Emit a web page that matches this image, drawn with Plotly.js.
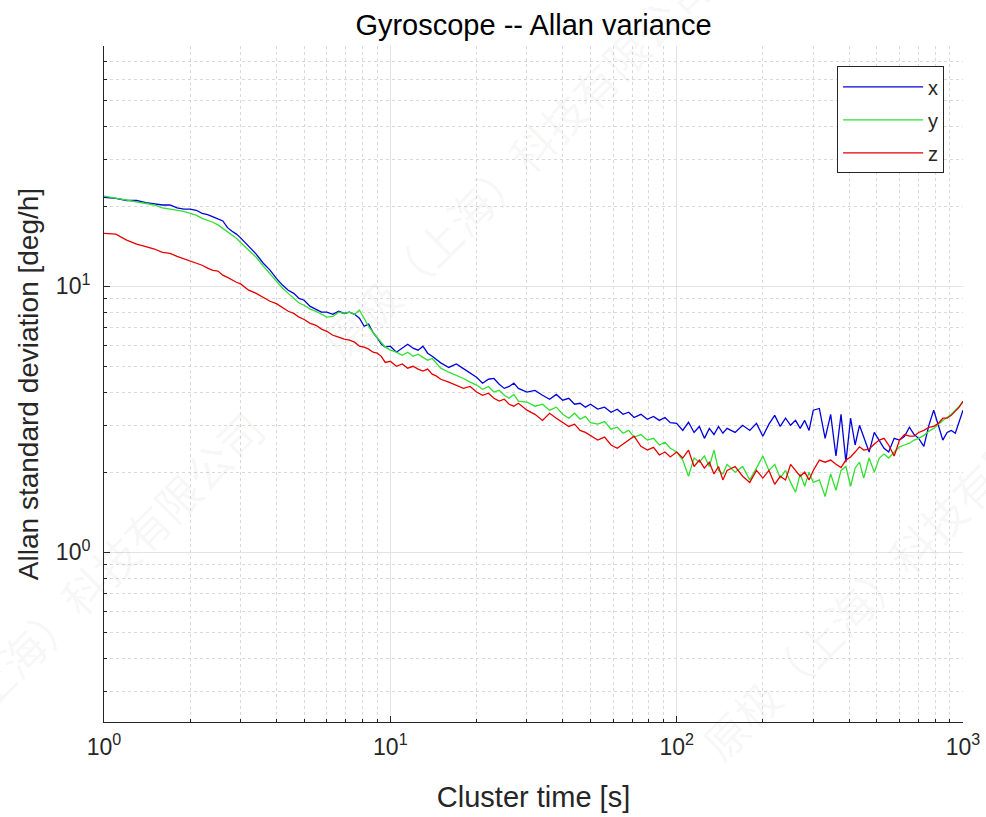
<!DOCTYPE html>
<html>
<head>
<meta charset="utf-8">
<script src="https://cdn.plot.ly/plotly-3.0.1.min.js"></script>
<style>html,body{margin:0;padding:0;background:#fff;}#chart{width:986px;height:817px;}</style>
</head>
<body>
<div id="chart"></div>
<script>
// Cluster time [s]
const tau = [1,1.1,1.2,1.3,1.4,1.5,1.6,1.7,1.8,1.9,2,2.1,2.2,2.3,2.4,2.5,2.6,2.7,2.8,2.9,3,3.2,3.4,3.6,3.8,4,4.2,4.4,4.6,4.8,5,5.25,5.5,5.75,6,6.3,6.6,6.9,7.2,7.5,7.8,8.1,8.4,8.7,9,9.3,9.6,
  10,10.5,11,11.5,12,12.5,13,13.5,14,14.5,15,16,17,18,19,20,21,22,23,24,25,26,27,28,30,32,34,36,38,40,42,44,46,48,50,53,56,59,62,65,68,71,75,79,83,87,91,95,
  100,105,110,115,120,125,130,135,140,145,150,160,170,180,190,200,210,220,230,240,250,260,270,280,290,300,315,330,345,360,375,390,405,420,435,450,470,490,510,530,550,575,600,625,650,675,700,730,760,790,820,850,880,910,940,970,1000];

// Allan standard deviation [deg/h]
const sigmaX = [21.6,21.4,21.0,21.0,20.6,20.4,20.2,20.2,19.7,19.5,19.5,19.3,18.8,18.6,18.3,17.9,17.6,16.6,16.1,15.7,15.2,14.1,13.2,12.2,11.5,10.7,10.1,9.66,9.4,9.0,8.86,8.4,8.2,7.99,7.99,7.84,8.05,7.9,7.99,7.84,7.58,7.07,7.2,6.7,6.4,6.06,5.9,
  5.95,5.65,5.85,6.05,5.85,5.75,5.95,5.6,5.45,5.3,5.15,4.95,5.1,4.9,4.72,4.55,4.32,4.47,4.5,4.28,4.13,4.2,4.32,4.13,4.0,4.06,3.89,3.76,3.92,3.73,3.79,3.6,3.63,3.51,3.6,3.45,3.51,3.36,3.45,3.3,3.36,3.21,3.3,3.16,3.24,3.13,3.21,3.07,
  3.05,2.87,3.08,2.82,2.97,2.68,2.92,2.77,2.97,2.8,2.92,2.82,3.0,2.87,3.05,2.73,3.03,3.27,2.97,3.19,3.0,3.13,2.92,3.13,2.87,3.42,3.47,2.68,3.3,2.3,3.3,2.18,3.19,2.53,3.0,2.73,2.38,2.82,2.64,2.46,2.38,2.68,2.64,2.73,2.95,2.77,2.68,2.5,3.0,3.42,3.0,2.64,2.82,2.87,2.8,3.08,3.42];

const sigmaY = [21.8,21.4,21.0,20.8,20.4,20.2,19.7,19.5,19.3,19.1,18.8,18.5,18.0,17.7,17.4,17.0,16.5,15.95,15.55,15.15,14.6,13.66,12.85,11.9,11.1,10.45,9.85,9.4,9.0,8.65,8.48,8.2,8.05,7.84,7.65,7.7,7.99,7.9,7.99,7.84,8.12,7.58,7.07,6.7,6.4,6.1,5.9,
  5.75,5.65,5.5,5.65,5.45,5.55,5.4,5.27,5.35,5.1,4.92,4.75,4.63,4.5,4.36,4.25,4.1,4.2,4.0,4.06,3.89,3.79,3.92,3.7,3.67,3.54,3.6,3.42,3.51,3.3,3.19,3.33,3.16,3.24,3.07,3.03,3.1,2.9,2.95,2.8,2.87,2.71,2.77,2.64,2.68,2.53,2.59,2.46,
  2.38,2.22,1.93,2.26,2.18,2.3,2.1,2.42,2.03,1.97,2.14,2.0,2.1,1.87,2.07,2.3,2.03,2.14,1.9,2.03,1.83,1.68,1.97,1.77,2.0,1.83,1.87,1.62,1.97,1.71,2.03,2.1,1.77,2.07,2.18,1.9,2.26,2.0,2.26,2.34,2.26,2.38,2.49,2.53,2.57,2.64,2.68,2.75,2.85,2.92,3.03,3.13,3.21,3.3,3.42,3.54,3.66];

const sigmaZ = [15.8,15.7,14.9,14.4,14.1,13.8,13.4,13.3,12.95,12.7,12.4,12.2,11.99,11.7,11.48,11.4,11.0,10.8,10.53,10.35,10.2,9.66,9.4,9.1,8.78,8.6,8.34,8.05,7.9,7.65,7.5,7.25,7.13,6.9,6.77,6.54,6.43,6.32,6.27,6.16,5.95,5.9,5.8,5.65,5.6,5.45,5.17,
  5.22,5.0,5.1,4.92,5.0,4.88,4.8,4.88,4.67,4.59,4.47,4.36,4.25,4.13,4.2,4.0,3.89,3.96,3.79,3.7,3.76,3.6,3.54,3.63,3.42,3.3,3.13,3.33,3.19,3.07,2.97,3.03,2.87,2.82,2.75,2.64,2.71,2.53,2.46,2.55,2.64,2.73,2.5,2.42,2.48,2.32,2.38,2.28,
  2.38,2.26,2.42,2.1,2.22,2.07,2.18,1.97,2.1,1.87,2.03,2.1,1.93,1.83,2.03,1.9,2.03,1.8,1.93,1.87,2.14,2.03,1.93,2.0,1.87,2.03,2.22,2.18,2.22,2.14,2.08,2.22,2.28,2.38,2.49,2.42,2.44,2.55,2.64,2.68,2.53,2.3,2.64,2.77,2.73,2.73,2.82,2.87,2.95,2.97,3.05,3.19,3.19,3.27,3.39,3.51,3.7];

const seriesNames = ['x','y','z'];
const seriesColors = ['#0000dc','#2fe02f','#e60000'];

const xTickVals = [1,10,100,1000];
const xTickText = ['10<sup>0</sup>','10<sup>1</sup>','10<sup>2</sup>','10<sup>3</sup>'];
const xMinorVals = [2,3,4,5,6,7,8,9,20,30,40,50,60,70,80,90,200,300,400,500,600,700,800,900];
const yTickVals = [1,10];
const yTickText = ['10<sup>0</sup>','10<sup>1</sup>'];
const yMinorVals = [0.3,0.4,0.5,0.6,0.7,0.8,0.9,2,3,4,5,6,7,8,9,20,30,40,50,60,70,80];

const watermark = '原极（上海）科技有限公司';

const FONT = 'Liberation Sans, Arial, Helvetica, sans-serif';
const INK = '#262626';

const ys = [sigmaX, sigmaY, sigmaZ];
const traces = ys.map((v, i) => ({
  x: tau, y: v, type: 'scatter', mode: 'lines', name: seriesNames[i],
  legendgroup: seriesNames[i],
  line: {color: seriesColors[i], width: 1.3}
}));

const layout = {
  width: 986, height: 817,
  margin: {l: 104, r: 23, t: 46, b: 95},
  paper_bgcolor: '#fff', plot_bgcolor: '#fff',
  font: {family: FONT, color: INK},
  title: {text: 'Gyroscope -- Allan variance', font: {family: FONT, size: 29, color: '#000'},
          x: 0.5, xref: 'paper', y: 0.969, yref: 'container', yanchor: 'middle'},
  showlegend: true,
  legend: {x: 0.978, xanchor: 'right', y: 0.970, yanchor: 'top', bgcolor: '#fff',
           bordercolor: INK, borderwidth: 1, font: {family: FONT, size: 20, color: INK},
           itemwidth: 80, tracegroupgap: 4},
  xaxis: {
    type: 'log', range: [0, 3], tickmode: 'array', tickvals: xTickVals, ticktext: xTickText,
    ticks: 'inside', ticklen: 6, tickcolor: INK, showline: true, linecolor: INK, linewidth: 1,
    showgrid: true, gridcolor: '#e3e3e3', gridwidth: 1, zeroline: false,
    tickfont: {family: FONT, size: 23, color: INK}, ticklabelstandoff: 4,
    minor: {tickmode: 'array', tickvals: xMinorVals, ticks: 'inside', ticklen: 3, tickcolor: INK,
            showgrid: true, gridcolor: '#d9d9d9', griddash: 'dot', gridwidth: 1},
    title: {text: 'Cluster time [s]', font: {family: FONT, size: 29, color: INK}, standoff: 28}
  },
  yaxis: {
    type: 'log', range: [Math.log10(0.23), Math.log10(80)], tickmode: 'array', tickvals: yTickVals, ticktext: yTickText,
    ticks: 'inside', ticklen: 6, tickcolor: INK, showline: true, linecolor: INK, linewidth: 1,
    showgrid: true, gridcolor: '#e3e3e3', gridwidth: 1, zeroline: false,
    tickfont: {family: FONT, size: 23, color: INK}, ticklabelstandoff: 8,
    minor: {tickmode: 'array', tickvals: yMinorVals, ticks: 'inside', ticklen: 3, tickcolor: INK,
            showgrid: true, gridcolor: '#d9d9d9', griddash: 'dot', gridwidth: 1},
    title: {text: 'Allan standard deviation [deg/h]', font: {family: FONT, size: 28, color: INK}, standoff: 9}
  },
  annotations: [
    {x: -0.042, y: 0.172}, {x: 0.48, y: 0.827}, {x: 0.922, y: 0.234}
  ].map(p => ({x: p.x, y: p.y, xref: 'paper', yref: 'paper', xanchor: 'center', yanchor: 'middle',
      text: watermark, showarrow: false,
      textangle: -45, font: {family: 'Noto Sans CJK SC', size: 44, color: 'rgba(0,0,0,0.05)'}}))
};

Plotly.newPlot('chart', traces, layout, {displayModeBar: false, staticPlot: true});
</script>
</body>
</html>
